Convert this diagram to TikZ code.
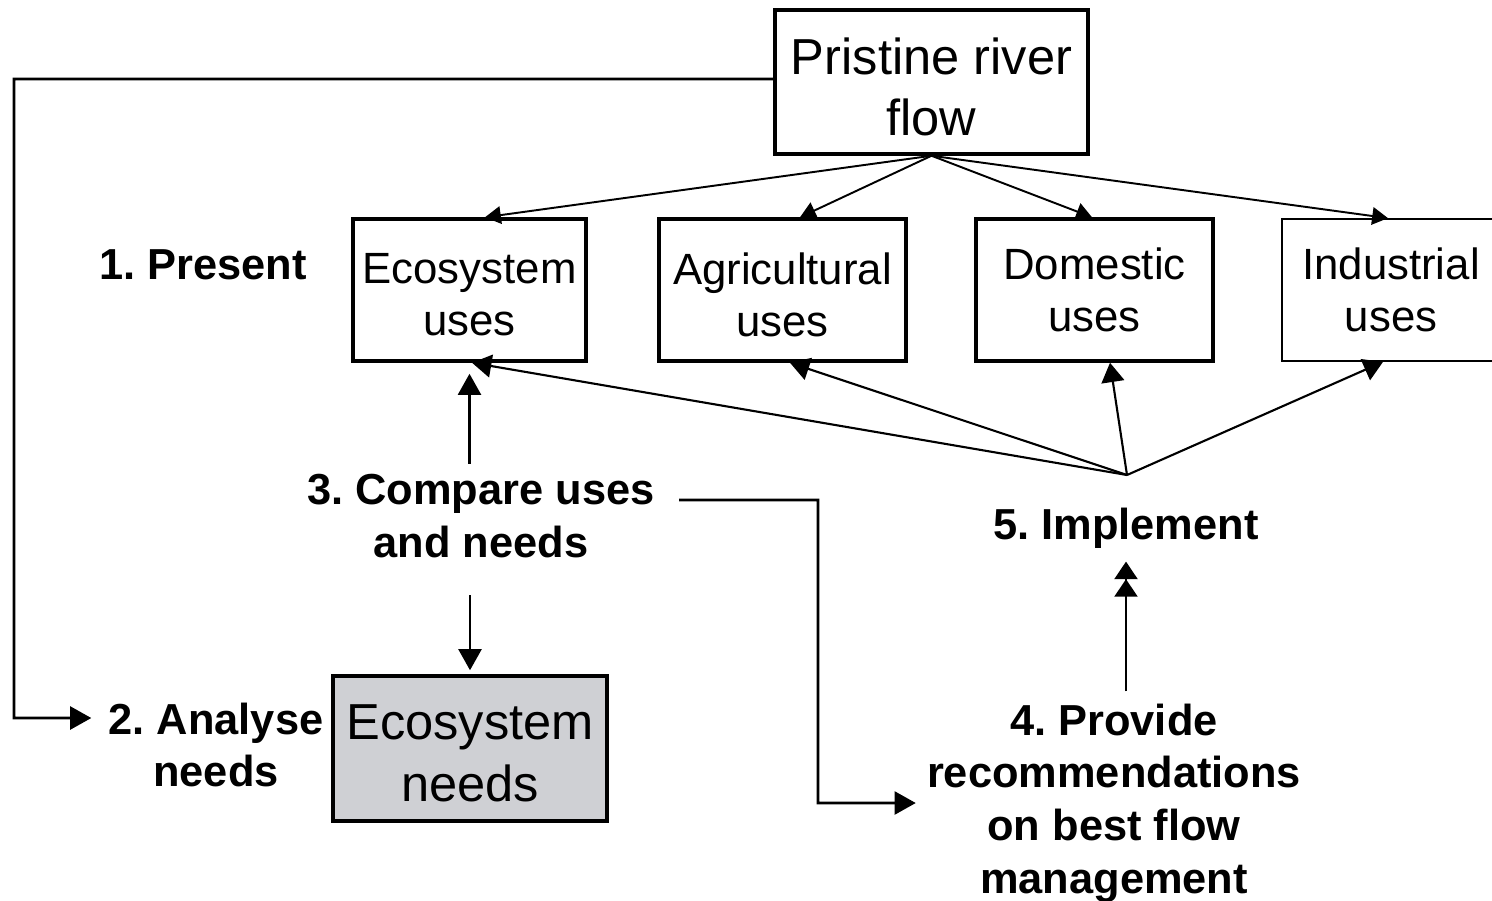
\documentclass[tikz,border=0pt]{standalone}
\usepackage{fontspec}
\setmainfont{Liberation Sans}
\usetikzlibrary{arrows.meta}
\definecolor{needgray}{RGB}{207,208,212}
\frenchspacing
\newcommand\lowr[1]{\raisebox{-0.1cm}[\height][\depth]{#1}}
\begin{document}
\begin{tikzpicture}[x=0.02cm,y=-0.02cm,
  box/.style={draw, line width=2pt, align=center, inner sep=0pt,
    font=\fontsize{24.9pt}{29.5pt}\selectfont},
  bigbox/.style={box, font=\fontsize{28.8pt}{35pt}\selectfont},
  lbl/.style={align=center, inner sep=0pt,
    font=\bfseries\fontsize{24.7pt}{30pt}\selectfont},
  con/.style={line width=1.6pt, -{Triangle[length=12pt,width=13pt]}},
  fan/.style={line width=1.2pt, -{Triangle[length=11pt,width=13pt]}},
  thinarr/.style={line width=1.1pt, -{Triangle[length=9pt,width=10pt]}},
  dbl/.style={line width=1.6pt, -{Triangle[length=10pt,width=13pt] Triangle[length=10pt,width=13pt]}},
]
\clip (0,0) rectangle (1492,900);
\fill[white] (0,0) rectangle (1492,900);

% boxes
\node[bigbox, minimum width=6.26cm, minimum height=2.88cm] (pristine) at (931.5,82) {\lowr{Pristine river}\\\lowr{flow}};
\node[box, minimum width=4.66cm, minimum height=2.84cm] (ecou) at (469.5,290) {\lowr{Ecosystem}\\\lowr{uses}};
\node[box, minimum width=4.94cm, minimum height=2.84cm] (agri) at (782.5,290) {\lowr{Agricultural}\\\lowr{uses}};
\node[box, minimum width=4.74cm, minimum height=2.84cm] (dom) at (1094.5,290) {Domestic\\uses};
\node[box, line width=1pt, minimum width=4.36cm, minimum height=2.84cm] (ind) at (1391,290) {Industrial\\uses};
\node[bigbox, fill=needgray, minimum width=5.48cm, minimum height=2.9cm] (econ) at (470,748.5) {\lowr{Ecosystem}\\\lowr{needs}};

% labels
\node[lbl] (present) at (203,265) {1. Present};
\node[lbl] (ana) at (216,745) {2. Analyse\\needs};
\node[lbl] (cmp) at (481,516) {3. Compare uses\\and needs};
\node[lbl] (rec) at (1114,803) {4. Provide\\recommendations\\on best flow\\management};
\node[lbl] (impl) at (1126,528) {5. Implement};

\coordinate (J) at (1127,475);
\coordinate (loopA) at (14,79);
\coordinate (bendA) at (818,500);

% pristine to uses
\draw[thinarr] (pristine.south) -- ([xshift=0.31cm]ecou.north);
\draw[thinarr] (pristine.south) -- ([xshift=0.35cm]agri.north);
\draw[thinarr] (pristine.south) -- ([xshift=-0.05cm]dom.north);
\draw[thinarr] (pristine.south) -- ([xshift=-0.06cm]ind.north);

% implement fan
\draw[fan] (J) -- ([xshift=0.05cm]ecou.south);
\draw[fan] (J) -- ([xshift=0.15cm]agri.south);
\draw[fan] (J) -- ([xshift=0.31cm]dom.south);
\draw[fan] (J) -- ([xshift=-0.16cm]ind.south);

% loop to analyse
\draw[con] ([yshift=0.06cm]pristine.west) -- (loopA) |- ([shift={(-0.34cm,0.54cm)}]ana.west);

% compare arrows
\draw[con] ([yshift=0.2cm]cmp.north -| ecou.south) -- ([yshift=-0.22cm]ecou.south);
\draw[con] ([yshift=-0.74cm]cmp.south -| econ.north) -- ([yshift=0.08cm]econ.north);
\draw[con] ([shift={(0.48cm,0.32cm)}]cmp.east) -- (bendA) |- ([xshift=-0.22cm]rec.west);

% provide to implement
\draw[dbl] ([yshift=0.24cm]rec.north -| impl.south) -- ([yshift=-0.26cm]impl.south);
\end{tikzpicture}
\end{document}
